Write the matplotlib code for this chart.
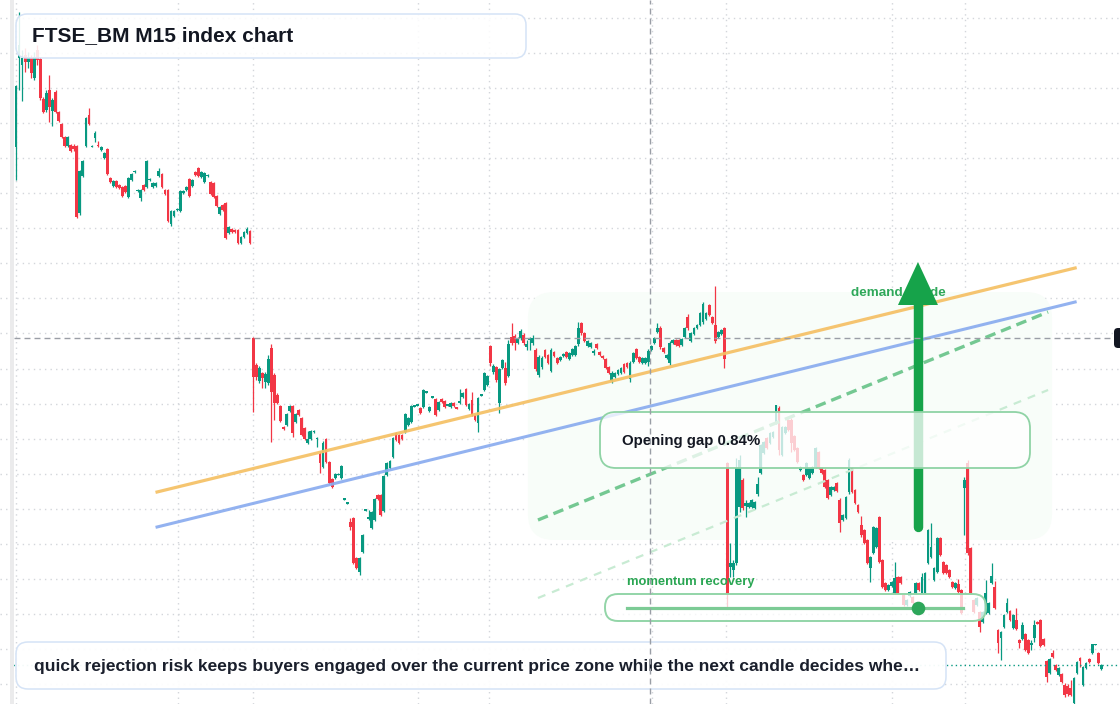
import matplotlib
matplotlib.use("Agg")
import matplotlib.pyplot as plt
from matplotlib.patches import FancyBboxPatch, Polygon, Rectangle
from matplotlib.colors import to_rgba

plt.rcParams['font.family'] = ['Liberation Sans', 'DejaVu Sans']

# ---------------- data (FTSE_BM M15 candles) ----------------
OPEN = [
    853, 942, 935, 945, 938, 942, 922, 950, 941, 901,
    890, 910, 889, 908, 888, 876, 863, 854, 855, 854,
    854, 787, 824, 854, 885, 853, 862, 855, 850, 842,
    851, 822, 814, 819, 815, 813, 814, 803, 820, 828,
    809, 802, 815, 813, 820, 813, 814, 824, 826, 810,
    810, 776, 784, 790, 789, 807, 810, 821, 814, 828,
    832, 823, 818, 824, 818, 817, 804, 786, 795, 797,
    767, 771, 770, 770, 757, 763, 767, 769,
    662, 635, 619, 627, 618, 617, 652, 625, 605, 594,
    573, 575, 589, 594, 578, 590, 582, 572, 557, 561,
    568, 561, 546, 533, 561, 538, 521, 522, 525, 522,
    500.5, 496.5, 478, 482, 442, 428, 448, 489.5, 481, 472,
    480, 505, 505, 489, 525, 532, 543, 567, 565, 565,
    568, 575, 578, 593.5, 594.5, 592, 593, 607.5, 589, 602.5,
    601, 590, 601, 599, 594.5, 593, 597, 592, 597, 603,
    611, 591, 600, 585, 577, 604.5, 610, 615,
    654, 628, 633, 597, 632, 632, 624, 663, 664, 657,
    662, 665, 653, 660.5, 657, 650, 625, 633, 650, 645,
    629, 648, 642, 640, 644, 648, 641, 645, 645, 656,
    677, 667, 654, 653, 647.5, 656, 648, 644, 641, 633,
    619, 623, 626, 627, 636, 637, 621, 638, 651, 643,
    637, 637, 638, 650, 657, 668, 672, 652, 642, 637,
    657, 660, 660, 655, 663, 683, 659, 666, 672, 675,
    678, 681, 695, 683, 675, 663, 666, 672,
    537, 433, 430, 437, 493, 520, 494, 493, 493, 492,
    506, 527, 547, 562, 557, 563, 578, 592, 545, 567,
    580, 580, 564, 552, 530, 525, 525, 522, 527, 533,
    548, 532, 530, 520, 505, 510, 517, 500, 480, 482,
    508, 532, 510, 495, 475, 470, 460, 432, 447, 453,
    483, 440, 417, 410, 414, 407, 423, 423, 405, 395,
    404, 403, 407, 417, 407, 407, 437, 443, 420, 428,
    462, 438, 435, 430, 418, 412, 416, 410,
    512, 537, 452, 400, 395, 388, 378, 387, 387, 417,
    413, 370, 362, 373, 388, 389, 372, 380, 360, 361,
    366, 360, 355.5, 362, 378, 380, 361, 339, 327, 347,
    335, 325, 326, 315, 314, 312, 297, 327, 342, 315,
    332, 341, 347, 355, 347, 331,
]
HIGH = [
    915, 988, 950, 952, 948, 945, 948, 955, 943, 903,
    910, 925, 902, 910, 889, 877, 864, 864, 856, 856,
    855, 830, 840, 883, 892, 855, 869, 859, 854, 848,
    852, 823, 820, 820, 816, 814, 815, 823, 827, 830,
    811, 811, 816, 840, 822, 818, 818, 832, 827, 811,
    811, 790, 790, 792, 810, 810, 814, 822, 821, 829,
    833, 829, 828, 826, 819, 818, 805, 794, 796, 798,
    774, 772, 771, 771, 764, 769, 773, 770,
    663, 637, 634, 628, 628, 645, 656, 627, 607, 595,
    574, 587, 595, 595, 587, 591, 583, 573, 569, 570,
    570, 563, 548, 559, 562, 539, 522, 527, 527, 535,
    501, 497, 482, 483, 443, 443, 466, 490, 490, 489,
    502, 506, 506, 525, 538, 540, 563, 568, 566, 566,
    587, 583, 595, 595, 596, 593, 611, 609, 594, 604,
    602, 599, 602, 600, 596, 598, 598, 593, 611, 608,
    612, 597, 608, 586, 603, 606, 628, 625,
    655, 636, 634, 632, 641, 638, 660, 677, 666, 663,
    671, 667, 660, 663, 665, 652, 645, 644, 651, 646,
    652, 649, 643, 644, 647, 649, 648, 652, 655, 678,
    678, 668, 660, 658, 651, 657, 649, 645, 642, 634,
    629, 628, 631, 633, 637, 638, 639, 648, 652, 644,
    643, 643, 651, 655, 663, 677, 674, 653, 646, 659,
    661, 661, 661, 662, 673, 686, 668, 673, 676, 688,
    698, 688, 696, 684, 714, 669, 671, 673,
    538, 457, 440, 542, 545, 522, 500, 498, 501, 499,
    523, 556, 559, 563, 568, 569, 595, 594, 574, 574,
    581, 582, 565, 553, 534, 526, 538, 533, 534, 553,
    549, 533, 531, 521, 514, 514, 518, 502, 486, 504,
    542, 533, 511, 496, 484, 471, 461, 444, 474, 473,
    484, 441, 418, 416, 419, 438, 424, 424, 406, 401,
    409, 404, 418, 418, 427, 428, 471, 477, 433, 463,
    463, 439, 436, 431, 419, 418, 421, 411,
    523, 540, 453, 401, 403, 389, 389, 420, 398, 437,
    419, 371, 369, 386, 402, 390, 386, 392, 361, 378,
    367, 361, 360, 380, 379, 381, 362, 340, 342, 350,
    336, 333, 327, 317, 316, 320, 323, 339, 343, 334,
    338, 342, 356, 356, 348, 336,
]
LOW = [
    820, 910, 899, 928, 932, 922, 920, 935, 900, 887,
    888, 878, 874, 887, 878, 862, 853, 853, 848, 849,
    782, 785, 823, 853, 875, 853, 858, 853, 849, 841,
    825, 817, 813, 812, 811, 803, 807, 802, 819, 827,
    808, 799, 809, 812, 819, 812, 813, 823, 812, 805,
    778, 774, 783, 789, 788, 806, 809, 803, 813, 824,
    823, 822, 817, 823, 805, 802, 793, 785, 789, 761,
    766, 767, 767, 756, 756, 762, 766, 756,
    588, 620, 617, 612, 612, 615, 558, 580, 596, 578,
    570, 574, 588, 563, 577, 584, 564, 560, 556, 560,
    567, 553, 527, 532, 537, 516, 512, 521, 525, 521,
    500, 496, 470, 436, 431, 425, 447, 489, 480, 471,
    479, 500, 484, 488, 524, 531, 542, 559, 556, 560,
    567, 574, 577, 593, 594, 586, 592, 607, 588, 602,
    584, 589, 597, 592, 594, 592, 593, 591, 596, 602,
    594, 590, 584, 579, 568, 604, 609, 614,
    634, 626, 618, 587, 631, 615, 623, 655, 650, 656,
    660, 655, 650, 650, 655, 629, 623, 631, 642, 636,
    628, 643, 636, 639, 643, 642, 640, 644, 644, 654,
    665, 658, 653, 652, 645, 651, 644, 641, 631, 626,
    617, 622, 625, 626, 627, 632, 618, 637, 641, 637,
    636, 636, 634, 649, 656, 667, 651, 647, 641, 635,
    656, 654, 653, 654, 662, 670, 658, 665, 671, 674,
    676, 680, 684, 676, 657, 662, 665, 632,
    393, 423, 423, 435, 488, 490, 483, 492, 492, 491,
    504, 526, 546, 551, 556, 562, 576, 545, 544, 566,
    569, 548, 549, 537, 529, 519, 524, 521, 526, 532,
    531, 526, 512, 501, 504, 509, 508, 468, 479, 481,
    506, 507, 496, 487, 463, 456, 436, 418, 446, 452,
    437, 412, 409, 409, 413, 406, 406, 416, 394, 394,
    403, 396, 406, 409, 406, 406, 436, 442, 419, 427,
    444, 426, 426, 422, 412, 411, 407, 386,
    465, 445, 406, 387, 394, 368, 377, 386, 386, 416,
    391, 347, 340, 372, 387, 379, 371, 370, 352, 360,
    349, 346, 350, 358, 376, 353, 354, 318, 326, 342,
    329, 324, 317, 303, 304, 304, 296, 326, 333, 314,
    331, 337, 346, 355, 336, 330,
]
CLOSE = [
    914, 955, 942, 938, 943, 927, 943, 940, 902, 888,
    907, 893, 900, 888, 879, 863, 854, 863, 849, 851,
    783, 829, 839, 882, 876, 854, 867, 854, 853, 847,
    826, 818, 819, 813, 812, 804, 808, 822, 826, 829,
    810, 810, 810, 839, 821, 817, 817, 829, 813, 806,
    779, 789, 789, 791, 809, 809, 813, 804, 820, 825,
    824, 828, 827, 825, 806, 803, 794, 793, 790, 762,
    773, 768, 768, 757, 763, 768, 771, 757,
    623, 623, 632, 622, 626, 641, 608, 597, 597, 579,
    571, 586, 594, 567, 586, 585, 565, 561, 561, 569,
    569, 562, 537, 557, 538, 517, 513, 526, 526, 534,
    501, 497, 473, 437, 432, 442, 465, 490, 483, 488,
    501, 501, 485, 524, 537, 539, 562, 560, 557, 561,
    586, 582, 594, 594, 595, 587, 610, 608, 593, 603,
    585, 598, 598, 593, 595, 597, 594, 591.5, 599, 607,
    595, 596, 585, 580, 602, 605, 627, 624,
    637, 634, 620, 631, 640, 617, 656, 657, 657, 662,
    669, 657, 656, 661, 662, 631, 643, 642, 643, 637,
    650, 644, 637, 643, 646, 643, 647, 651, 654, 672,
    667, 659, 659, 657, 648, 652, 645, 642, 632, 627,
    627, 627, 630, 632, 628, 633, 637, 647, 642, 638,
    642, 642, 649, 654, 662, 672, 653, 648, 645, 657,
    660, 655, 654, 661, 672, 672, 667, 672, 675, 687,
    696, 687, 685, 677, 659, 668, 670, 641,
    406, 437, 437, 532, 540, 492, 497, 497, 500, 498,
    516, 555, 558, 552, 567, 568, 595, 550, 573, 573,
    570, 557, 550, 538, 533, 520, 537, 532, 533, 552,
    532, 527, 513, 502, 513, 513, 509, 477, 485, 503,
    540, 508, 497, 488, 465, 457, 437, 443, 473, 472,
    438, 413, 410, 415, 418, 422, 407, 417, 395, 400,
    408, 397, 417, 410, 423, 427, 470, 453, 432, 462,
    445, 427, 427, 423, 413, 417, 408, 387,
    520, 447, 407, 388, 402, 373, 388, 407, 397, 424,
    392, 357, 368, 385, 397, 380, 385, 371, 357, 375,
    350, 347, 356, 375, 376.5, 354, 355, 323, 341, 343,
    330, 332, 318, 305, 306, 305, 322, 338, 339, 333,
    337, 338, 356, 355.5, 337, 335,
]

# time grid (bar index) and price grid
VGRID = [0, 53.3, 77.8, 132.3, 155.6, 209.2, 233.6, 288.2, 312.2]
HGRID = [982.5, 947.4, 912.3, 877.2, 842.1, 807.0, 771.9, 736.8, 701.7, 666.6,
         631.5, 596.4, 561.3, 526.2, 491.1, 456.0, 420.9, 385.8, 350.7, 315.6]

# drawings (bar index, price)
ORANGE_X, ORANGE_P = [46.4, 348.4], [508, 732]
BLUE_X, BLUE_P = [46.4, 348.4], [473, 698]
DASH1_X, DASH1_P = [171.7, 339.5], [480, 688]
DASH2_X, DASH2_P = [171.7, 339.5], [402, 610]
ZONE = (168.4, 460, 340.8, 708)          # x0, p0, x1, p1
CROSS_X, CROSS_P = 208.55, 662
ARROW_X, ARROW_FROM, ARROW_BASE, ARROW_TIP = 296.7, 473.5, 695, 738
MOM_X, MOM_P, MOM_DOT = [201.0, 311.5], 392, 296.7

TITLE = "FTSE_BM M15 index chart"
NOTE = ("quick rejection risk keeps buyers engaged over the current price zone "
        "while the next candle decides whe\u2026")
GAP_LABEL = "Opening gap 0.84%"
MOM_LABEL = "momentum recovery"
DEMAND_LABEL = "demand divide"

# ---------------- figure ----------------
W, H = 1120, 704
PX_PER_BAR = 3.04
X0_PX = 16
UP, DOWN = '#089981', '#f23645'

fig = plt.figure(figsize=(W / 100, H / 100), dpi=100)
fig.patch.set_facecolor('white')
ax = fig.add_axes([0, 0, 1, 1])
ax.set_xlim(-X0_PX / PX_PER_BAR, (W - X0_PX) / PX_PER_BAR)
ax.set_ylim(296, 1000)
for s in ax.spines.values():
    s.set_visible(False)
ax.set_xticks(VGRID)
ax.set_yticks(HGRID)
ax.tick_params(length=0, labelbottom=False, labelleft=False)
ax.grid(True, color='#d3d6db', linestyle=(0, (1, 3)), linewidth=1.0)
ax.set_axisbelow(True)

# shaded zone
zx0, zp0, zx1, zp1 = ZONE
R = 26
ax.add_patch(FancyBboxPatch((zx0, zp0), zx1 - zx0, zp1 - zp0,
                            boxstyle=f"round,pad=0,rounding_size={R / PX_PER_BAR}",
                            mutation_aspect=PX_PER_BAR,
                            facecolor='#f8fdf9', edgecolor='none', zorder=1))

# candles
idx = list(range(len(CLOSE)))
colors = [UP if c >= o else DOWN for o, c in zip(OPEN, CLOSE)]
ax.vlines(idx, LOW, HIGH, colors=colors, linewidth=0.9, zorder=2)
bottoms = [min(o, c) for o, c in zip(OPEN, CLOSE)]
heights = [max(abs(c - o), 1.2) for o, c in zip(OPEN, CLOSE)]
ax.bar(idx, heights, bottom=bottoms, width=0.92, color=colors, linewidth=0, zorder=2.1)

# trend lines
ax.plot(ORANGE_X, ORANGE_P, color='#f5c064', lw=2.3, alpha=0.92, zorder=3)
ax.plot(BLUE_X, BLUE_P, color='#8aacef', lw=2.2, alpha=0.92, zorder=3)
ax.plot(DASH1_X, DASH1_P, color='#74c892', lw=2.4, dashes=(3.2, 1.8), zorder=3)
ax.plot(DASH2_X, DASH2_P, color='#c8ebd3', lw=1.6, dashes=(3.6, 3.2), zorder=3)

# last price line
ax.axhline(CLOSE[-1], xmin=13 / W, xmax=1, color=UP, lw=1.0, dashes=(1, 2.2), zorder=3.5)


def pbox(x0, y0, x1, y1, r, face, falpha, edge, elw, z):
    ax.add_patch(FancyBboxPatch((x0 / W, 1 - y1 / H), (x1 - x0) / W, (y1 - y0) / H,
                                boxstyle=f"round,pad=0,rounding_size={r / W}",
                                mutation_aspect=W / H, transform=ax.transAxes,
                                facecolor=to_rgba(face, falpha), edgecolor=edge,
                                linewidth=elw, zorder=z))


def ptext(x, y, s, **kw):
    ax.text(x / W, 1 - y / H, s, transform=ax.transAxes, **kw)


# demand label + arrow
ptext(851, 293, DEMAND_LABEL, fontsize=9.7, fontweight='bold', color='#2fa85a',
      va='center', ha='left', zorder=4)
ax.plot([ARROW_X, ARROW_X], [ARROW_FROM, ARROW_BASE + 5], color='#16a34a', lw=6.8,
        solid_capstyle='round', zorder=5)
hw = 20 / PX_PER_BAR
ax.add_patch(Polygon([(ARROW_X - hw, ARROW_BASE), (ARROW_X + hw, ARROW_BASE),
                      (ARROW_X, ARROW_TIP)], closed=True, facecolor='#16a34a',
                     edgecolor='none', zorder=5))

# title box
pbox(16, 14, 526, 58, 11, 'white', 0.88, '#d5e3f6', 1.1, 6)
ptext(32, 36, TITLE, fontsize=15, fontweight='bold', color='#131722', va='center', zorder=7)

# opening gap box
pbox(600, 412, 1030, 468, 16, 'white', 0.76, '#8fd3a5', 1.3, 6)
ptext(622, 441, GAP_LABEL, fontsize=10.8, fontweight='bold', color='#131722',
      va='center', zorder=7)

# momentum
ptext(627, 582, MOM_LABEL, fontsize=9.4, fontweight='bold', color='#2aa653',
      va='center', zorder=7)
pbox(605, 594, 986, 621, 13, 'white', 0.76, '#93d5a8', 1.4, 6)
ax.plot(MOM_X, [MOM_P, MOM_P], color='#7ccb95', lw=2.3, zorder=7)
ax.plot([MOM_DOT], [MOM_P], marker='o', markersize=9.8, color='#2da65a',
        markeredgewidth=0, zorder=7.5)

# bottom note
pbox(16, 642, 946, 689, 12, 'white', 0.95, '#d5e3f6', 1.1, 6)
ptext(34, 666, NOTE, fontsize=12.5, fontweight='bold', color='#1a1f2c', va='center', zorder=7)

# crosshair
ax.axhline(CROSS_P, xmin=14 / W, xmax=1114 / W, color='#9a9ea6', lw=1.0,
           dashes=(4.3, 2.9), zorder=8)
ax.axvline(CROSS_X, color='#9a9ea6', lw=1.0, dashes=(4.3, 2.9), zorder=8)
pbox(1114, 328, 1170, 348, 4, '#131722', 1.0, 'none', 0, 9)

# left scale strip
fig.patches.append(Rectangle((10 / W, 0), 4 / W, 1, transform=fig.transFigure,
                             facecolor='#ebebec', edgecolor='none', zorder=20))

fig.savefig('out.png', dpi=100, facecolor='white')
